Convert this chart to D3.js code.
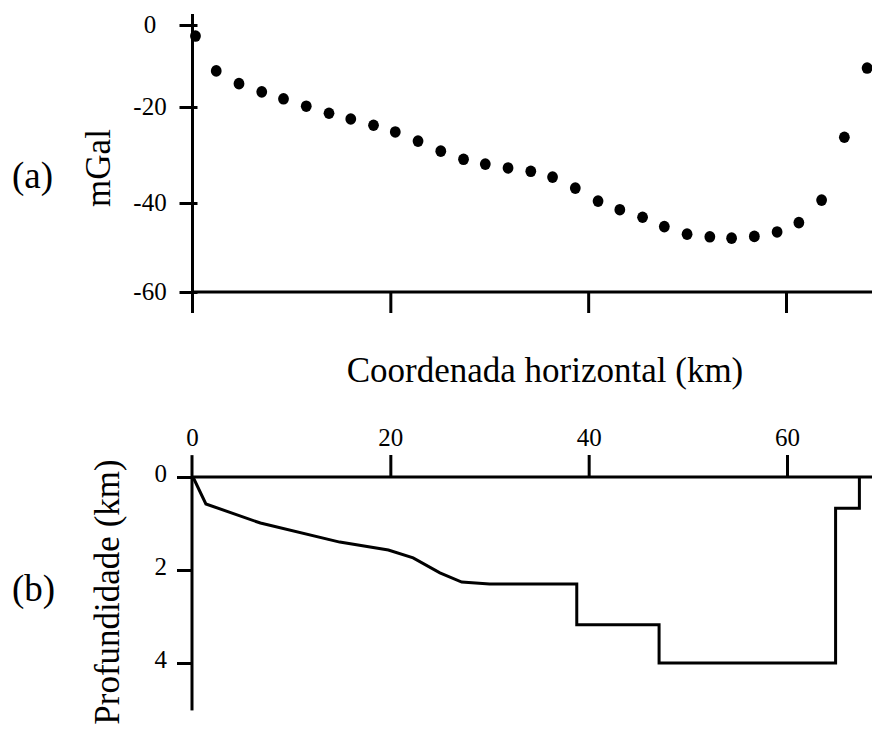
<!DOCTYPE html>
<html>
<head>
<meta charset="utf-8">
<script src="https://cdn.jsdelivr.net/npm/d3@7"></script>
<style>
  body { margin: 0; background: #fff; }
  svg { display: block; }
</style>
</head>
<body>
<div id="chart"></div>
<script>
// gravity anomaly profile (a) and basin depth model (b)

// (a) observed anomaly, mGal
var gravX = [0.3, 2.4, 4.7, 7.0, 9.2, 11.5, 13.8, 16.0, 18.3, 20.5, 22.8, 25.1, 27.4, 29.6, 31.9, 34.2,
             36.4, 38.7, 41.0, 43.2, 45.5, 47.7, 50.0, 52.3, 54.5, 56.8, 59.1, 61.3, 63.6, 65.9, 68.2];
var gravVal = [-2.7, -11.2, -14.3, -16.3, -18.0, -19.8, -21.3, -22.5, -23.8, -25.2, -27.1, -29.2, -30.9, -31.9, -32.7, -33.4,
               -34.6, -36.9, -39.6, -41.5, -43.2, -45.3, -47.0, -47.6, -47.9, -47.5, -46.5, -44.4, -39.4, -26.3, -10.5];
var gravTicks = [0, -20, -40, -60];

// (b) basement depth, km
var depthX = [0.1, 1.4, 6.9, 14.9, 19.8, 22.3, 25.0, 27.2, 30.0, 38.8, 38.8, 47.1, 47.1, 64.9, 64.9, 67.3, 67.3];
var depthVal = [0, 0.58, 0.99, 1.40, 1.57, 1.74, 2.06, 2.26, 2.30, 2.30, 3.18, 3.18, 4.0, 4.0, 0.67, 0.67, 0];
var depthTicks = [0, 2, 4];
var distTicks = [0, 20, 40, 60];

var W = 872, H = 731;
var serif = "'Liberation Serif', 'Times New Roman', serif";

var svg = d3.select("#chart").append("svg")
    .attr("width", W)
    .attr("height", H);

svg.append("rect").attr("width", W).attr("height", H).attr("fill", "#fff");

// scales (the hand drawn y axis of (a) has uneven tick spacing)
var xA = d3.scaleLinear().domain([0, 60]).range([192.5, 786]);
var yA = d3.scaleLinear().domain([0, -20, -40, -60]).range([25, 107, 203, 292]);
var xB = d3.scaleLinear().domain([0, 60]).range([192, 787]);
var yB = d3.scaleLinear().domain([0, 4]).range([477, 663]);

function styleAxis(g) {
    g.select(".domain").remove();
    g.selectAll(".tick line").attr("stroke", "#000").attr("stroke-width", 3);
    g.selectAll(".tick text")
        .attr("fill", "#000")
        .style("font-family", serif)
        .style("font-size", "25px");
}

////////////////////////////////////////
// panel (a)

var axA = xA(0);
svg.append("line")
    .attr("x1", axA).attr("x2", axA)
    .attr("y1", yA(2.7)).attr("y2", yA(-64.7))
    .attr("stroke", "#000").attr("stroke-width", 3);
svg.append("line")
    .attr("x1", axA).attr("x2", W)
    .attr("y1", yA(-60)).attr("y2", yA(-60))
    .attr("stroke", "#000").attr("stroke-width", 3);

var gyA = svg.append("g")
    .attr("transform", "translate(" + axA + ",0)")
    .call(d3.axisLeft(yA).tickValues(gravTicks).tickSize(13).tickSizeOuter(0).tickFormat(d3.format("d")))
    .call(styleAxis);
gyA.selectAll(".tick line").attr("x1", 5);
gyA.selectAll(".tick text")
    .attr("x", 150 - axA)
    .attr("dy", "0.28em")
    .attr("text-anchor", "middle")
    .text(function(d) { return d === 0 ? "0" : "-" + Math.abs(d); });

svg.append("g")
    .attr("transform", "translate(0," + yA(-60) + ")")
    .call(d3.axisBottom(xA).tickValues(distTicks.slice(1)).tickSize(21).tickSizeOuter(0).tickFormat(""))
    .call(styleAxis);

svg.append("g").selectAll("ellipse")
    .data(gravX)
    .enter().append("ellipse")
    .attr("cx", function(d) { return xA(d); })
    .attr("cy", function(d, i) { return yA(gravVal[i]); })
    .attr("rx", 5.4)
    .attr("ry", 5.8)
    .attr("fill", "#000");

svg.append("text")
    .attr("transform", "translate(110,168) rotate(-90)")
    .attr("text-anchor", "middle")
    .style("font-family", serif)
    .style("font-size", "35px")
    .text("mGal");

svg.append("text")
    .attr("x", 12).attr("y", 188)
    .style("font-family", serif)
    .style("font-size", "37px")
    .text("(a)");

svg.append("text")
    .attr("x", 545).attr("y", 382)
    .attr("text-anchor", "middle")
    .style("font-family", serif)
    .style("font-size", "35px")
    .text("Coordenada horizontal (km)");

////////////////////////////////////////
// panel (b)

var axB = xB(0);
svg.append("line")
    .attr("x1", axB).attr("x2", axB)
    .attr("y1", yB(-0.47)).attr("y2", yB(5.02))
    .attr("stroke", "#000").attr("stroke-width", 3);
svg.append("line")
    .attr("x1", axB).attr("x2", W)
    .attr("y1", yB(0)).attr("y2", yB(0))
    .attr("stroke", "#000").attr("stroke-width", 3);

var gxB = svg.append("g")
    .attr("transform", "translate(0," + yB(0) + ")")
    .call(d3.axisTop(xB).tickValues(distTicks).tickSize(22).tickPadding(9).tickSizeOuter(0).tickFormat(d3.format("d")))
    .call(styleAxis);
gxB.selectAll(".tick line").filter(function(d) { return d === 0; }).remove();

var gyB = svg.append("g")
    .attr("transform", "translate(" + axB + ",0)")
    .call(d3.axisLeft(yB).tickValues(depthTicks).tickSize(15).tickPadding(10).tickSizeOuter(0).tickFormat(d3.format("d")))
    .call(styleAxis);
gyB.selectAll(".tick text").attr("dy", "0.16em");

var profile = d3.line()
    .x(function(d) { return xB(d); })
    .y(function(d, i) { return yB(depthVal[i]); });

svg.append("path")
    .datum(depthX)
    .attr("d", profile)
    .attr("fill", "none")
    .attr("stroke", "#000")
    .attr("stroke-width", 3)
    .attr("stroke-linejoin", "miter");

svg.append("text")
    .attr("transform", "translate(119,592) rotate(-90)")
    .attr("text-anchor", "middle")
    .style("font-family", serif)
    .style("font-size", "35px")
    .text("Profundidade (km)");

svg.append("text")
    .attr("x", 12).attr("y", 601)
    .style("font-family", serif)
    .style("font-size", "37px")
    .text("(b)");
</script>
</body>
</html>
